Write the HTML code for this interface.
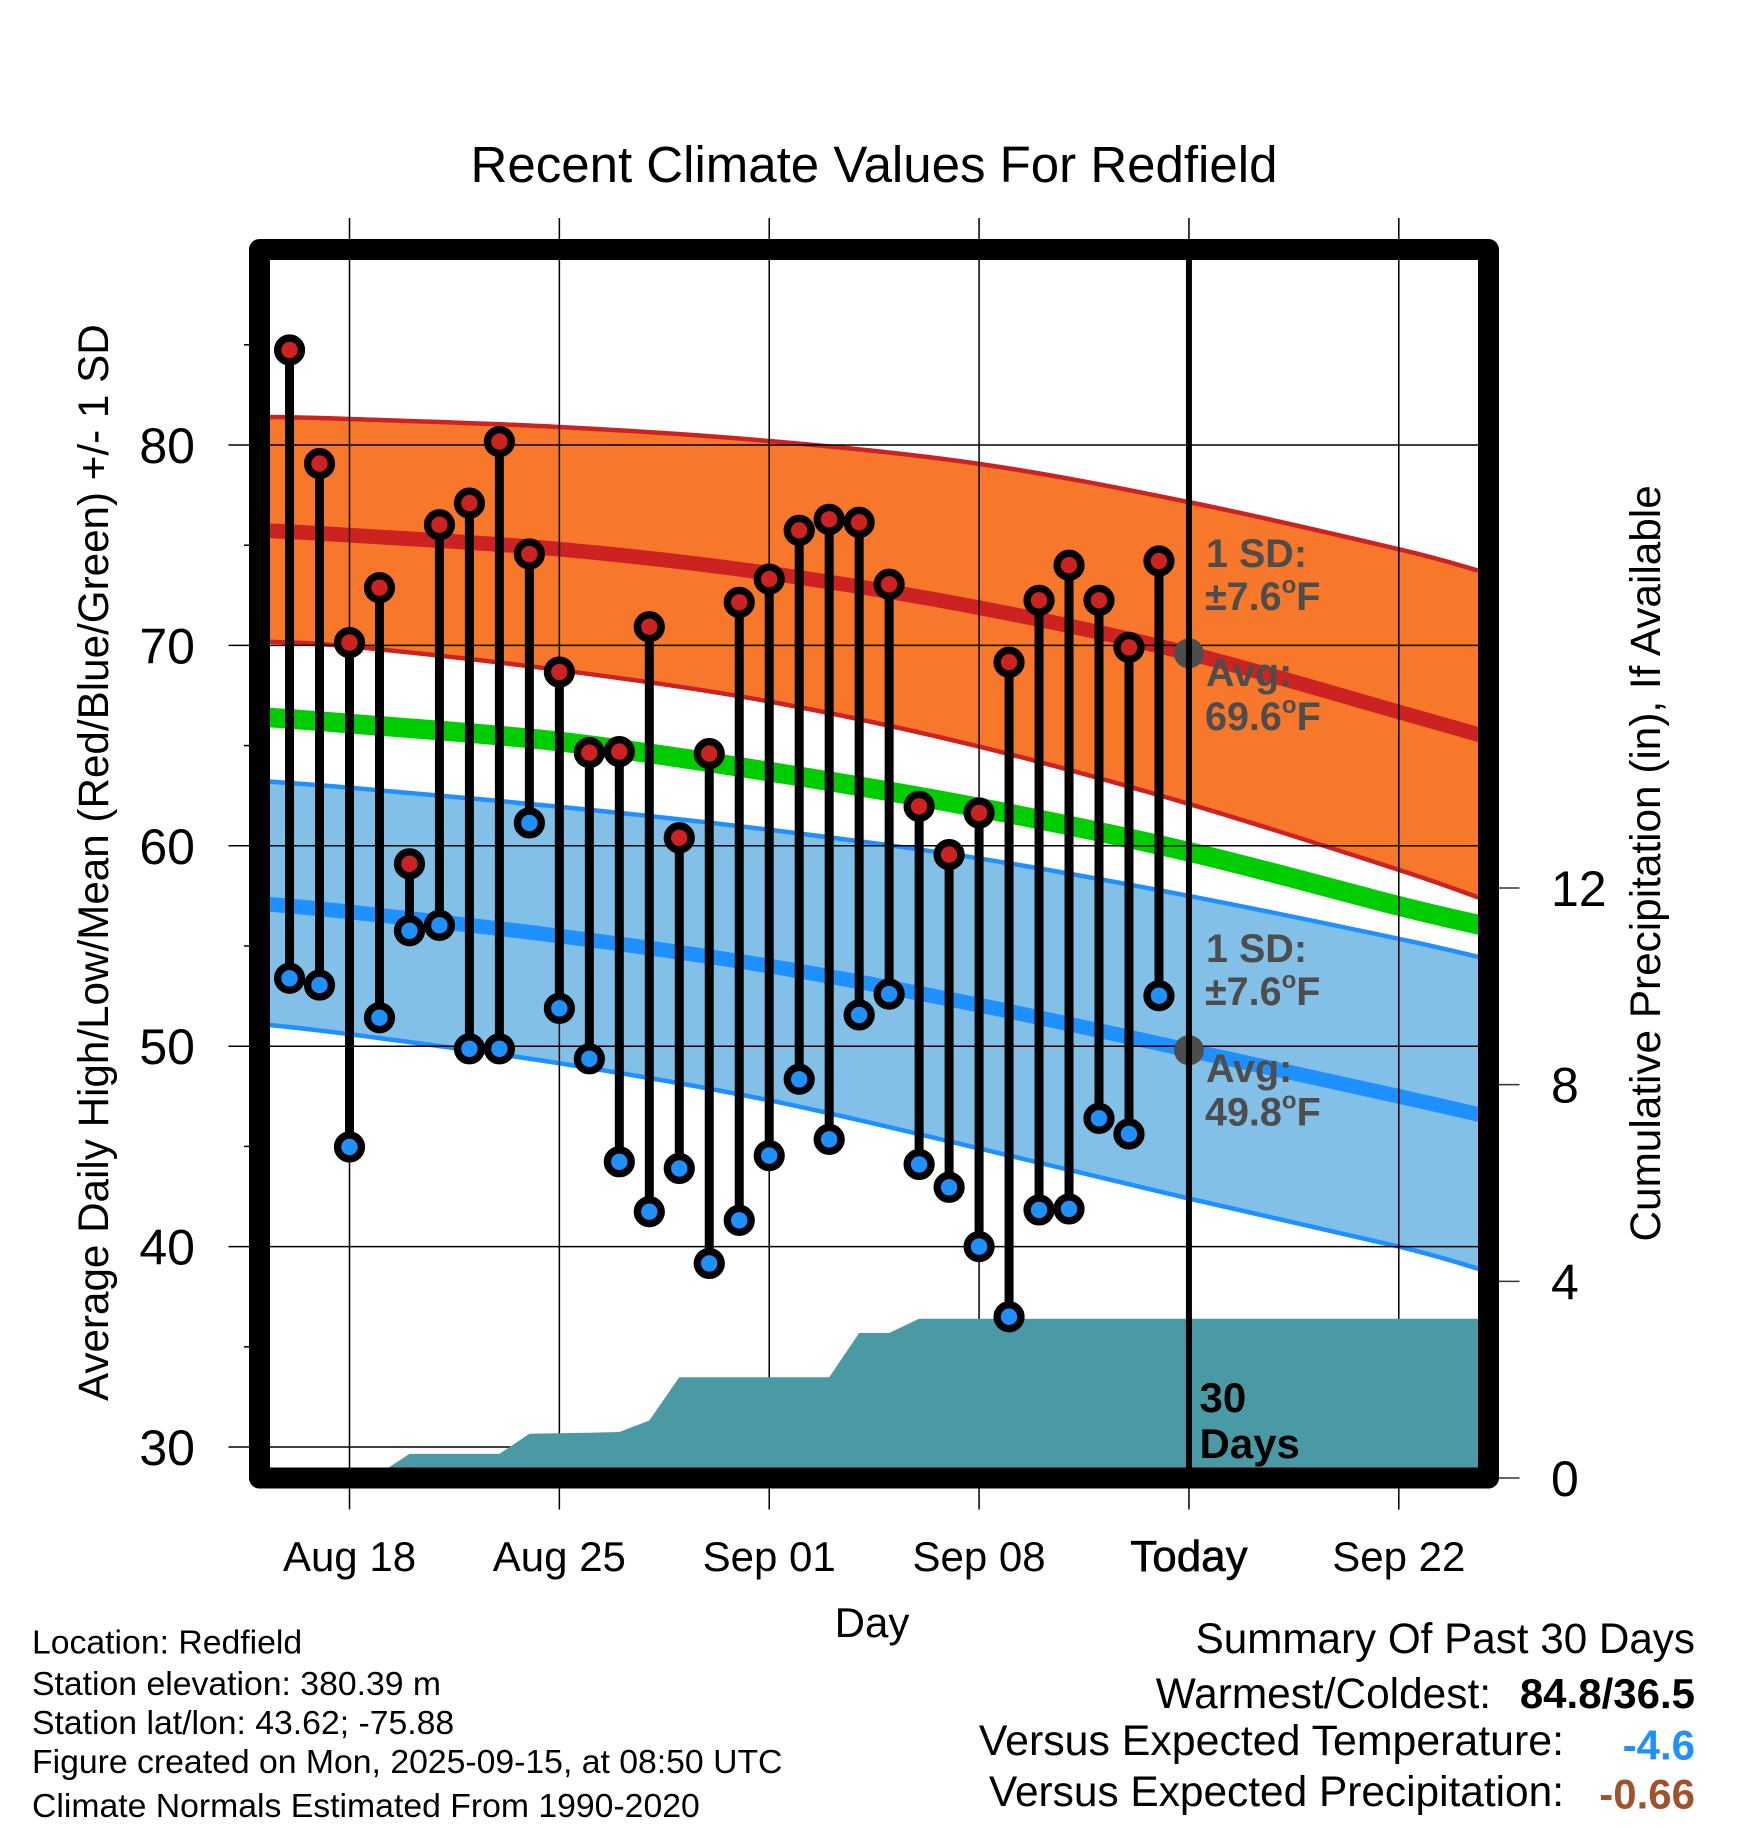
<!DOCTYPE html>
<html lang="en">
<head>
<meta charset="utf-8">
<title>Recent Climate Values For Redfield</title>
<style>
html,body{margin:0;padding:0;background:#fff;}
svg{display:block;}
text{font-family:"Liberation Sans",Arial,sans-serif;fill:#000;}
.ann{font-size:39.5px;font-weight:700;fill:#4d4d4d;}
.foot{font-size:33.75px;}
.sum{font-size:42.3px;text-anchor:end;}
.sumb{font-size:42px;font-weight:700;text-anchor:end;}
</style>
</head>
<body>
<svg id="chart" xmlns="http://www.w3.org/2000/svg" width="1748" height="1828" viewBox="0 0 1748 1828">
  <defs>
    <clipPath id="plot-clip"><rect x="270" y="260" width="1208" height="1208"/></clipPath>
  </defs>
  <rect x="0" y="0" width="1748" height="1828" fill="#fff"/>
  <text x="874" y="182" font-size="51" text-anchor="middle">Recent Climate Values For Redfield</text>

  <g id="layer-bands" clip-path="url(#plot-clip)"></g>
  <g id="layer-grid"></g>
  <g id="layer-precip" clip-path="url(#plot-clip)"></g>
  <g id="layer-today" clip-path="url(#plot-clip)"></g>
  <g id="layer-stems"></g>
  <rect x="259.5" y="249.5" width="1229" height="1228.5" fill="none" stroke="#000" stroke-width="21" stroke-linejoin="round"/>
  <g id="layer-labels"></g>

  <text class="ann" x="1206" y="567">1 SD:</text>
  <text class="ann" x="1205" y="610">±7.6<tspan font-size="24" dy="-17">o</tspan><tspan dy="17">F</tspan></text>
  <text class="ann" x="1206" y="686">Avg:</text>
  <text class="ann" x="1205" y="730">69.6<tspan font-size="24" dy="-17">o</tspan><tspan dy="17">F</tspan></text>
  <text class="ann" x="1206" y="962">1 SD:</text>
  <text class="ann" x="1205" y="1005">±7.6<tspan font-size="24" dy="-17">o</tspan><tspan dy="17">F</tspan></text>
  <text class="ann" x="1206" y="1082">Avg:</text>
  <text class="ann" x="1205" y="1125.5">49.8<tspan font-size="24" dy="-17">o</tspan><tspan dy="17">F</tspan></text>
  <text x="1199.5" y="1412" font-size="42" font-weight="700">30</text>
  <text x="1199.5" y="1458" font-size="42" font-weight="700">Days</text>

  <text x="108" y="1401" font-size="42.2" transform="rotate(-90 108 1401)">Average Daily High/Low/Mean (Red/Blue/Green) +/- 1 SD</text>
  <text x="1660" y="1241.5" font-size="42.3" transform="rotate(-90 1660 1241.5)">Cumulative Precipitation (in), If Available</text>
  <text x="872" y="1637" font-size="42" text-anchor="middle">Day</text>

  <text class="foot" x="32" y="1653.5">Location: Redfield</text>
  <text class="foot" x="32" y="1695">Station elevation: 380.39 m</text>
  <text class="foot" x="32" y="1734">Station lat/lon: 43.62; -75.88</text>
  <text class="foot" x="32" y="1773">Figure created on Mon, 2025-09-15, at 08:50 UTC</text>
  <text class="foot" x="32" y="1817">Climate Normals Estimated From 1990-2020</text>

  <text class="sum" x="1695" y="1653" style="font-size:42.2px">Summary Of Past 30 Days</text>
  <text class="sum" x="1491" y="1708" style="font-size:42.4px">Warmest/Coldest:</text>
  <text class="sumb" x="1695" y="1708">84.8/36.5</text>
  <text class="sum" x="1564" y="1755" style="font-size:42.85px">Versus Expected Temperature:</text>
  <text class="sumb" x="1695" y="1759.5" style="fill:#1e90ff">-4.6</text>
  <text class="sum" x="1564" y="1806" style="font-size:42.4px">Versus Expected Precipitation:</text>
  <text class="sumb" x="1695" y="1808.5" style="fill:#a0522d">-0.66</text>
</svg>
<script>
// Days observed, Aug 16 through Sep 14
const days = ["Aug 16","Aug 17","Aug 18","Aug 19","Aug 20","Aug 21","Aug 22","Aug 23","Aug 24","Aug 25","Aug 26","Aug 27","Aug 28","Aug 29","Aug 30","Aug 31","Sep 01","Sep 02","Sep 03","Sep 04","Sep 05","Sep 06","Sep 07","Sep 08","Sep 09","Sep 10","Sep 11","Sep 12","Sep 13","Sep 14"];
const highs = [84.74,79.07,70.14,72.88,59.1,76.02,77.1,80.17,74.56,68.67,64.65,64.7,70.93,60.4,64.6,72.15,73.31,75.74,76.29,76.14,73.05,61.97,59.56,61.64,69.16,72.25,74.0,72.25,69.9,74.21];
const lows = [53.39,53.05,44.97,51.42,55.76,56.03,49.87,49.87,61.14,51.89,49.37,44.23,41.74,43.9,39.16,41.31,44.54,48.35,45.35,51.56,52.6,44.1,42.96,40.0,36.5,41.83,41.88,46.4,45.62,52.52];
const precip = [0,0,0,0.09,0.49,0.49,0.49,0.49,0.9,0.91,0.92,0.935,1.17,2.05,2.05,2.05,2.05,2.05,2.05,2.95,2.95,3.24,3.24,3.24,3.24,3.24,3.24,3.24,3.24,3.24];

// Climate normals, indexed by days since Aug 18
const normalDayOffsets = [-2.66,0,7,14,21,28,35,37.64];
const highUpper = [81.4,81.3,80.9,80.2,79.06,77.15,74.8,73.74];
const highMean = [75.72,75.5,74.8,73.6,71.88,69.6,66.68,65.56];
const highLower = [70.18,69.95,68.77,67.2,64.95,62.09,58.8,57.43];
const midMean = [66.4,66.1,65.2,63.7,61.9,59.7,57.0,56.07];
const lowUpper = [63.2,62.9,61.95,60.8,59.37,57.5,55.36,54.46];
const lowMean = [57.08,56.7,55.5,54.0,52.05,49.8,47.5,46.6];
const lowLower = [51.06,50.6,49.15,47.3,44.9,42.4,40.0,38.9];

// Axis ticks
const xTickOffsets = [0,7,14,21,28,35];
const xTickLabels = ["Aug 18","Aug 25","Sep 01","Sep 08","Today","Sep 22"];
const yMajorTicks = [30,40,50,60,70,80];
const yMinorTicks = [35,45,55,65,75,85];
const precipTicks = [0,4,8,12];
const todayOffset = 28;
const todayHigh = 69.6;
const todayLow = 49.8;

function xScale(d){return 349.5+29.98*d;}
function yScale(t){return 445+(80-t)*20.04;}
function yPrecip(p){return 1478-49.17*p;}

const NS="http://www.w3.org/2000/svg";
function make(parent,tag,attrs){
  const el=document.createElementNS(NS,tag);
  for(const k in attrs){el.setAttribute(k,attrs[k]);}
  parent.appendChild(el);
  return el;
}
function pts(offsets,vals,scale){return offsets.map(function(d,i){return xScale(d).toFixed(2)+","+scale(vals[i]).toFixed(2);});}
// Smooth Catmull-Rom segments through scaled normal values
function curve(offsets,vals,reverse){
  let p=offsets.map(function(d,i){return [xScale(d),yScale(vals[i])];});
  if(reverse){p=p.slice().reverse();}
  let s="";
  for(let i=0;i<p.length-1;i++){
    const a=p[Math.max(i-1,0)],b=p[i],c=p[i+1],e=p[Math.min(i+2,p.length-1)];
    const c1x=b[0]+(c[0]-a[0])/6,c1y=b[1]+(c[1]-a[1])/6;
    const c2x=c[0]-(e[0]-b[0])/6,c2y=c[1]-(e[1]-b[1])/6;
    s+=" C"+c1x.toFixed(2)+" "+c1y.toFixed(2)+" "+c2x.toFixed(2)+" "+c2y.toFixed(2)+" "+c[0].toFixed(2)+" "+c[1].toFixed(2);
  }
  return {start:p[0],body:s};
}
function openPath(vals){
  const c=curve(normalDayOffsets,vals,false);
  return "M"+c.start[0].toFixed(2)+" "+c.start[1].toFixed(2)+c.body;
}

const bands=document.getElementById("layer-bands");
function drawBand(upper,lower,fill,stroke,name){
  const lowerRev=curve(normalDayOffsets,lower,true);
  const d=openPath(upper)+" L"+lowerRev.start[0].toFixed(2)+" "+lowerRev.start[1].toFixed(2)+lowerRev.body+" Z";
  const el=make(bands,"path",{d:d,fill:fill});
  
  
  const up=make(bands,"path",{d:openPath(upper),fill:"none",stroke:stroke,"stroke-width":4.5,"stroke-linecap":"square"});
  
  
  const lo=make(bands,"path",{d:openPath(lower),fill:"none",stroke:stroke,"stroke-width":4.5,"stroke-linecap":"square"});
  
  
}
function drawLine(vals,stroke,width,name){
  const el=make(bands,"path",{d:openPath(vals),fill:"none",stroke:stroke,"stroke-width":width,"stroke-linecap":"square","stroke-linejoin":"round"});
  
  
}
drawBand(highUpper,highLower,"#f7772b","#cd2222","high-sd-band");
drawBand(lowUpper,lowLower,"#83c0e8","#1e90ff","low-sd-band");
drawLine(highMean,"#cd2222",14.7,"high-mean-line");
drawLine(lowMean,"#1e90ff",14.7,"low-mean-line");
drawLine(midMean,"#00cd00",19.7,"mean-line");

const grid=document.getElementById("layer-grid");
xTickOffsets.forEach(function(d){
  const el=make(grid,"line",{x1:xScale(d),x2:xScale(d),y1:218,y2:1509.5,stroke:"#000","stroke-width":1.5});
  
  
});
yMajorTicks.forEach(function(t){
  const el=make(grid,"line",{x1:228.5,x2:1478,y1:yScale(t),y2:yScale(t),stroke:"#000","stroke-width":1.5});
  
  
});
yMinorTicks.forEach(function(t){
  const el=make(grid,"line",{x1:244,x2:260,y1:yScale(t),y2:yScale(t),stroke:"#000","stroke-width":1.5});
  
  
});
precipTicks.forEach(function(p){
  const el=make(grid,"line",{x1:1490,x2:1519.5,y1:yPrecip(p),y2:yPrecip(p),stroke:"#333","stroke-width":1.5});
  
  
});

const precipLayer=document.getElementById("layer-precip");
const precipOffsets=days.map(function(_,i){return i-2;});
const lastPrecip=precip[precip.length-1];
const areaPts=[xScale(-3)+","+yPrecip(0)].concat(pts(precipOffsets,precip,yPrecip));
areaPts.push(xScale(38)+","+yPrecip(lastPrecip));
areaPts.push(xScale(38)+","+yPrecip(0));
const area=make(precipLayer,"polygon",{points:areaPts.join(" "),fill:"#4a9aa5"});



const todayLayer=document.getElementById("layer-today");
const dotHigh=make(todayLayer,"circle",{cx:xScale(todayOffset),cy:yScale(todayHigh),r:15,fill:"#4d4d4d"});


const dotLow=make(todayLayer,"circle",{cx:xScale(todayOffset),cy:yScale(todayLow),r:15,fill:"#4d4d4d"});


const todayLine=make(todayLayer,"line",{x1:xScale(todayOffset),x2:xScale(todayOffset),y1:255,y2:1470,stroke:"#000","stroke-width":6});



const stems=document.getElementById("layer-stems");
days.forEach(function(day,i){
  const x=xScale(i-2);
  const s=make(stems,"line",{x1:x,x2:x,y1:yScale(highs[i]),y2:yScale(lows[i]),stroke:"#000","stroke-width":9});
  
  
});
days.forEach(function(day,i){
  const x=xScale(i-2);
  const h=make(stems,"circle",{cx:x,cy:yScale(highs[i]),r:11.9,fill:"#cd2222",stroke:"#000","stroke-width":7.4});
  
  
  const l=make(stems,"circle",{cx:x,cy:yScale(lows[i]),r:11.9,fill:"#1e90ff",stroke:"#000","stroke-width":7.4});
  
  
});

const labels=document.getElementById("layer-labels");
xTickLabels.forEach(function(lbl,i){
  const attrs={x:xScale(xTickOffsets[i]),y:1571,"font-size":42,"text-anchor":"middle"};
  if(lbl==="Today"){attrs["font-size"]=44;attrs.stroke="#000";attrs["stroke-width"]=0.6;}
  const t=make(labels,"text",attrs);
  t.textContent=lbl;
  
  
});
yMajorTicks.forEach(function(v){
  const t=make(labels,"text",{x:195,y:yScale(v)+18,"font-size":50,"text-anchor":"end"});
  t.textContent=String(v);
  
  
});
precipTicks.forEach(function(v){
  const t=make(labels,"text",{x:1551,y:yPrecip(v)+18,"font-size":50});
  t.textContent=String(v);
  
  
});
</script>
</body>
</html>
